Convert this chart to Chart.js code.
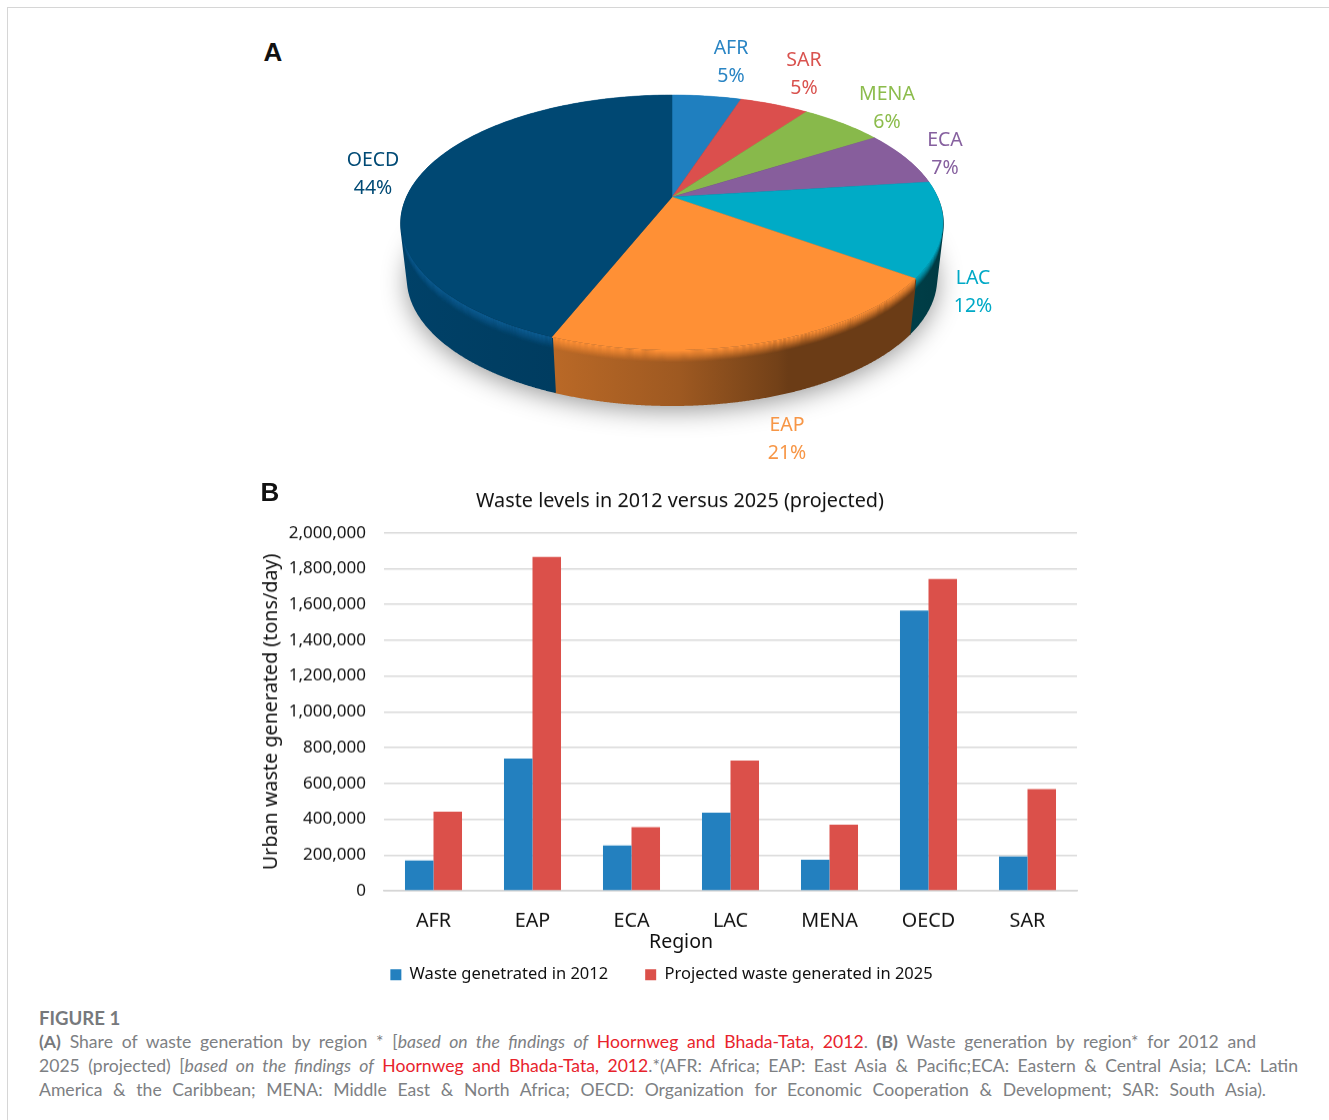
<!DOCTYPE html>
<html><head><meta charset="utf-8">
<script src="https://cdn.jsdelivr.net/npm/chart.js@4"></script>
<style>
html,body{margin:0;padding:0;background:#fff;}
body{width:1329px;height:1120px;position:relative;overflow:hidden;font-family:"Noto Sans",sans-serif;}
.frame{position:absolute;left:7px;top:7px;right:-5px;bottom:-5px;border:1.5px solid #d6d6d6;box-sizing:border-box;}
canvas{display:block;}
.cw{position:absolute;}
.lab{position:absolute;transform:translate(-50%,-50%);font-size:19.5px;line-height:28px;text-align:center;white-space:pre;font-family:"Noto Sans",sans-serif;}
.let{position:absolute;transform:translate(-50%,-50%);font:bold 26px "Liberation Sans",sans-serif;color:#111;}
.cap{position:absolute;left:39px;font:17.6px/24px Lato,sans-serif;color:#7d8083;white-space:nowrap;text-align:justify;text-align-last:justify;}
.cap b{font-weight:700;color:#77797c}.cap a{color:#e8232c}.cap i{font-style:italic}
.fig{position:absolute;left:39px;top:1006px;font:bold 18.6px/24px Lato,sans-serif;color:#77797c;}
#region{position:absolute;left:681px;top:940px;transform:translate(-50%,-50%);font:19.5px "Noto Sans",sans-serif;color:#111;}
</style></head>
<body>
<div class="frame"></div>
<div class="cw" style="left:340px;top:60px;width:660px;height:400px"><canvas id="pie"></canvas></div>
<div class="cw" style="left:250px;top:470px;width:860px;height:527.5px"><canvas id="bar"></canvas></div>
<div class="let" style="left:273px;top:52px">A</div>
<div class="let" style="left:270px;top:492px">B</div>
<div id="labels"></div>
<div id="region">Region</div>
<div class="fig">FIGURE 1</div>
<div class="cap" style="top:1030px;width:1217px"><b>(A)</b> Share of waste generation by region * [<i>based on the findings of</i> <a>Hoornweg and Bhada-Tata, 2012</a>. <b>(B)</b> Waste generation by region* for 2012 and</div>
<div class="cap" style="top:1054px;width:1259px">2025 (projected) [<i>based on the findings of</i> <a>Hoornweg and Bhada-Tata, 2012</a>.*(AFR: Africa; EAP: East Asia &amp; Pacific;ECA: Eastern &amp; Central Asia; LCA: Latin</div>
<div class="cap" style="top:1078px;width:1227px">America &amp; the Caribbean; MENA: Middle East &amp; North Africa; OECD: Organization for Economic Cooperation &amp; Development; SAR: South Asia).</div>
<script>
// ---- data ----
const pieRegions = ["AFR","SAR","MENA","ECA","LAC","EAP","OECD"];
const pieShares = [5,5,6,7,12,21,44];
const pieColors = ["#1f7fbf","#db4f4d","#88b94b","#875e9c","#00abc6","#ff9035","#004873"];
const rimColors = ["#1f7fbf","#db4f4d","#88b94b","#875e9c","#00abc6","#ff9035","#0d5c92"];
const labelColors = ["#2a85c4","#d9534f","#8cbc4c","#86609f","#00a9c6","#f79646","#004a75"];
const sideShades = [[.5,.5],[.5,.5],[.5,.5],[.5,.5],[.36,.34],[.72,.42],[.86,.6]];
const labelSpots = [[731,61],[804,73],[887,107],[945,153],[973,291],[787,438],[373,173]];

const barRegions = ["AFR","EAP","ECA","LAC","MENA","OECD","SAR"];
const waste2012 = [169000,739000,254000,437000,174000,1566000,192000];
const waste2025 = [442000,1865000,355000,728000,369000,1742000,568000];

Chart.defaults.animation = false;
Chart.defaults.font.family = '"Noto Sans",sans-serif';

// ---- pie labels ----
const lw = document.getElementById('labels');
pieRegions.forEach((r,i)=>{
  const d=document.createElement('div');d.className='lab';
  d.style.left=labelSpots[i][0]+'px';d.style.top=labelSpots[i][1]+'px';d.style.color=labelColors[i];
  d.textContent=r+'\n'+pieShares[i]+'%';lw.appendChild(d);
});

// ---- perspective pie ----
const OX=340,OY=60,K=.2,A=265.5,B=122.4,CX=672-OX,CY=197-OY,DEPTH=56,RIM=12;
function proj(th,z){const x=Math.sin(th),y=-Math.cos(th),w=1-K*y,s=1-.025*z/DEPTH;
  return [CX+A*s*x/w, CY+B*y/w+z];}
function hex(c){return [1,3,5].map(i=>parseInt(c.substr(i,2),16));}
function mul(c,f){return 'rgb('+hex(c).map(v=>Math.round(v*f)).join(',')+')';}
function trace(ctx,a0,a1,z,rev,move){const n=Math.max(4,Math.ceil((a1-a0)*60));
  for(let i=0;i<=n;i++){const t=rev?a1-(a1-a0)*i/n:a0+(a1-a0)*i/n;const p=proj(t,z);
    (i===0&&move)?ctx.moveTo(p[0],p[1]):ctx.lineTo(p[0],p[1]);}}
function band(ctx,a,z0,z1){ctx.beginPath();trace(ctx,a.s,a.e,z0,false,true);trace(ctx,a.s,a.e,z1,true,false);ctx.closePath();ctx.fill();}
const pie3d={id:'pie3d',
  beforeDatasetDraw(chart){
    const ctx=chart.ctx,arcs=chart.getDatasetMeta(0).data.map(e=>({s:e.startAngle+Math.PI/2,e:e.endAngle+Math.PI/2}));
    ctx.save();
    // soft shadow under the disc
    ctx.save();ctx.shadowColor='rgba(0,0,0,.42)';ctx.shadowBlur=26;ctx.shadowOffsetY=6;
    ctx.fillStyle='#123';ctx.beginPath();trace(ctx,0,Math.PI*2,DEPTH-2,false,true);ctx.closePath();ctx.fill();ctx.restore();
    // walls
    arcs.forEach((a,i)=>{
      const xs=[];for(let j=0;j<=40;j++){xs.push(proj(a.s+(a.e-a.s)*j/40,0)[0]);}
      const x0=Math.min(...xs),x1=Math.max(...xs);
      const g=ctx.createLinearGradient(x0,0,x1,0),c=pieColors[i];
      if(i===5){g.addColorStop(0,mul(c,.73));g.addColorStop(.35,mul(c,.62));g.addColorStop(.62,mul(c,.45));g.addColorStop(.65,mul(c,.42));g.addColorStop(1,mul(c,.42));}
      else if(i===6){g.addColorStop(0,mul(c,.9));g.addColorStop(.7,mul(c,.82));g.addColorStop(1,'#012f5c');}
      else{g.addColorStop(0,mul(c,sideShades[i][0]));g.addColorStop(1,mul(c,sideShades[i][1]));}
      // vertical generators stroked as one path: a seamless wall with straight side silhouettes
      ctx.strokeStyle=g;ctx.lineWidth=2;ctx.beginPath();
      const steps=Math.ceil((a.e-a.s)/.004);
      for(let j=0;j<=steps;j++){const t=a.s+(a.e-a.s)*j/steps,p=proj(t,1),q=proj(t,DEPTH);ctx.moveTo(p[0],p[1]);ctx.lineTo(q[0],q[1]);}
      ctx.stroke();
      // rolled rim: face colour fading into the wall
      ctx.fillStyle=rimColors[i];
      for(let z=RIM-1;z>=0;z-=1){
        ctx.globalAlpha=Math.pow(1-z/RIM,1.2);
        band(ctx,a,z,z+1.2);
      }
      ctx.globalAlpha=1;
    });
    // top faces
    arcs.forEach((a,i)=>{
      ctx.fillStyle=pieColors[i];ctx.strokeStyle=pieColors[i];ctx.lineWidth=.5;
      ctx.beginPath();ctx.moveTo(CX,CY);trace(ctx,a.s,a.e,0,false,false);ctx.closePath();ctx.fill();ctx.stroke();
    });
    ctx.restore();
    return false;
  }};
new Chart(document.getElementById('pie'),{
  type:'pie',plugins:[pie3d],
  data:{labels:pieRegions,datasets:[{data:pieShares,backgroundColor:pieColors,borderWidth:0}]},
  options:{responsive:true,maintainAspectRatio:false,plugins:{legend:{display:false},tooltip:{enabled:false}}}
});

// ---- bar chart ----
const nudge={id:'nudge',afterLayout(c){
  c.legend.left-=2;c.legend.right-=2;c.legend.top-=5.5;c.legend.bottom-=5.5;
  c.titleBlock.left+=16.5;c.titleBlock.right+=16.5;}};
new Chart(document.getElementById('bar'),{
  type:'bar',plugins:[nudge],
  data:{labels:barRegions,datasets:[
    {label:'Waste genetrated in 2012',data:waste2012,backgroundColor:'#2380bf',categoryPercentage:.576,barPercentage:1},
    {label:'Projected waste generated in 2025',data:waste2025,backgroundColor:'#db504a',categoryPercentage:.576,barPercentage:1}]},
  options:{responsive:true,maintainAspectRatio:false,
    layout:{padding:{right:33,top:0,bottom:0,left:0}},
    plugins:{tooltip:{enabled:false},
      title:{display:true,text:'Waste levels in 2012 versus 2025 (projected)',color:'#111',font:{size:19.8,weight:'normal'},padding:{top:19,bottom:20}},
      legend:{position:'bottom',labels:{boxWidth:11,boxHeight:11,padding:37,color:'#111',font:{size:16.5}}}},
    scales:{
      x:{grid:{display:false,drawTicks:false},border:{color:'#d4d4d4',width:1.5},
        ticks:{color:'#111',font:{size:19.8},padding:18},
        afterFit(s){s.height=44;}},
      y:{min:0,max:2000000,
        grid:{color:'#d9d9d9',lineWidth:1.5,drawTicks:false},border:{display:false},
        ticks:{stepSize:200000,color:'#111',padding:18,font:{size:17},callback:v=>v.toLocaleString('en-US')},
        title:{display:true,text:'Urban waste generated (tons/day)',color:'#111',font:{size:19.7},padding:{top:10,bottom:0}},
        afterFit(s){s.width=134;}}
    }}
});
</script>
</body></html>
